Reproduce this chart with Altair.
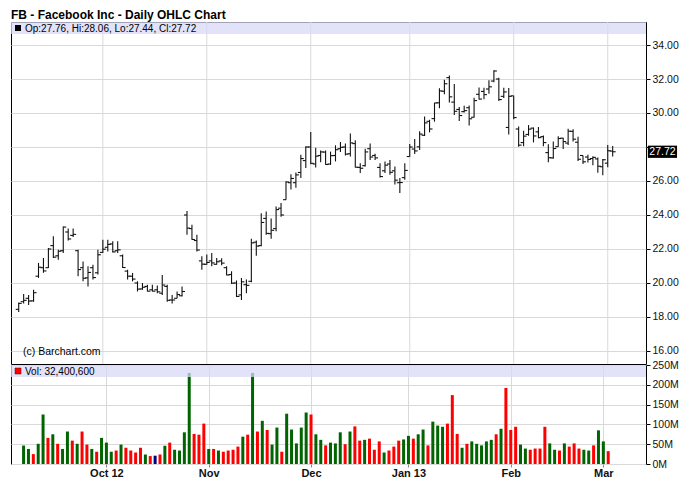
import altair as alt
import pandas as pd

# ---- data (trading-day index 0 = first bar, Sep 6 2012) ----
month_idx = [17, 38, 59, 79, 100, 119]
month_labels = ["Oct 12", "Nov", "Dec", "Jan 13", "Feb", "Mar"]

opens = [18.45, 18.90, 19.10, 18.95, 20.40, 20.90, 20.90, 22.20, 21.60, 21.90,
         23.00, 22.80, 21.90, 20.90, 20.30, 20.90, 20.60, 21.80, 22.10, 22.30,
         21.90, 21.60, 20.70, 20.40, 20.00, 19.65, 19.80, 19.60, 19.60, 19.40,
         19.80, 19.00, 19.10, 19.25, 24.00, 23.20, 22.50, 21.30, 21.10, 21.30,
         21.10, 21.30, 20.90, 20.50, 20.00, 19.30, 19.90, 20.10, 22.40, 22.20,
         23.80, 22.90, 23.20, 24.40, 24.90, 25.90, 25.90, 26.50, 27.20, 28.00,
         27.00, 27.50, 27.70, 27.00, 27.50, 27.90, 28.00, 27.60, 28.20, 26.80,
         26.90, 27.90, 27.50, 26.80, 26.60, 27.00, 26.60, 25.90, 26.20, 27.44,
         27.88, 28.01, 28.69, 29.51, 29.67, 30.60, 31.28, 32.08, 30.64, 30.21,
         30.08, 30.31, 29.75, 31.10, 31.27, 31.41, 31.88, 32.00, 30.98, 29.15,
         31.01, 29.06, 28.26, 28.74, 29.11, 28.89, 28.61, 27.67, 27.36, 28.02,
         28.52, 28.23, 28.92, 28.28, 27.50, 27.41, 27.32, 27.30, 26.84, 27.05,
         27.76]
highs = [18.85, 19.35, 19.30, 19.60, 21.18, 21.47, 22.06, 22.75, 21.96, 23.33,
         23.20, 23.20, 21.96, 21.27, 20.98, 21.08, 21.96, 22.55, 22.55, 22.45,
         22.45, 21.67, 20.78, 20.59, 20.10, 20.00, 19.90, 19.90, 19.85, 20.47,
         19.90, 19.30, 19.50, 19.80, 24.24, 23.43, 22.84, 21.57, 21.67, 21.76,
         21.47, 21.45, 20.98, 20.69, 20.15, 20.30, 20.20, 22.60, 22.50, 24.10,
         24.20, 23.80, 24.50, 24.70, 25.98, 26.40, 26.50, 27.55, 28.04, 28.88,
         27.95, 27.80, 27.80, 27.73, 28.10, 28.30, 28.20, 28.80, 28.40, 27.05,
         27.90, 28.20, 27.60, 27.05, 27.15, 27.24, 26.85, 26.17, 27.05, 28.18,
         28.47, 28.93, 29.79, 29.60, 30.60, 31.45, 31.96, 32.21, 31.71, 30.35,
         30.42, 30.44, 30.89, 31.50, 31.49, 31.93, 32.51, 32.07, 31.49, 31.47,
         31.02, 29.20, 28.96, 29.29, 29.15, 29.17, 28.68, 28.16, 28.32, 28.63,
         28.55, 29.08, 29.05, 28.60, 27.50, 27.54, 27.46, 27.38, 27.30, 28.12,
         28.06]
lows = [18.30, 18.80, 18.70, 18.90, 20.30, 20.60, 20.88, 21.47, 21.37, 21.76,
        22.50, 22.70, 20.40, 20.10, 19.80, 20.20, 20.50, 21.76, 21.86, 21.80,
        21.76, 20.88, 20.20, 20.10, 19.50, 19.60, 19.50, 19.50, 19.40, 19.30,
        18.90, 18.80, 19.10, 19.20, 22.84, 22.55, 21.86, 20.78, 21.08, 20.98,
        21.08, 21.05, 20.45, 19.95, 19.18, 19.00, 19.40, 20.05, 21.60, 22.16,
        22.84, 22.60, 23.04, 23.90, 24.90, 25.50, 25.60, 26.18, 26.76, 26.98,
        26.80, 27.10, 26.95, 26.95, 27.15, 27.70, 27.50, 27.44, 26.80, 26.47,
        26.85, 27.24, 27.24, 26.20, 26.47, 26.37, 25.80, 25.30, 26.08, 27.42,
        27.59, 27.83, 28.65, 28.86, 29.49, 30.28, 31.10, 30.62, 29.88, 29.53,
        30.03, 29.27, 29.74, 30.80, 30.81, 31.13, 31.81, 30.71, 30.88, 28.74,
        29.63, 28.01, 28.04, 28.66, 28.27, 28.51, 28.04, 27.10, 27.31, 28.01,
        27.88, 28.12, 28.33, 27.18, 27.00, 27.09, 26.92, 26.48, 26.34, 26.81,
        27.44]
closes = [18.80, 18.98, 18.94, 19.43, 20.93, 20.71, 22.00, 21.52, 21.87, 23.29,
          22.59, 22.86, 20.79, 20.28, 20.62, 20.32, 21.66, 21.99, 22.27, 21.83,
          21.95, 20.91, 20.40, 20.23, 19.64, 19.75, 19.52, 19.52, 19.48, 19.88,
          18.98, 19.00, 19.32, 19.50, 23.23, 22.56, 21.94, 21.11, 21.21, 21.18,
          21.25, 21.17, 20.47, 19.99, 19.21, 20.07, 19.86, 22.36, 22.17, 23.56,
          22.92, 23.10, 24.32, 24.00, 25.94, 26.15, 26.36, 27.32, 28.00, 27.04,
          27.46, 27.71, 26.97, 27.49, 27.84, 27.98, 27.58, 28.24, 26.81, 26.75,
          27.71, 27.41, 27.36, 26.26, 26.93, 26.51, 26.05, 25.91, 26.62, 28.00,
          27.77, 28.76, 29.42, 29.06, 30.59, 31.30, 31.72, 30.95, 30.10, 29.85,
          30.14, 29.66, 30.73, 30.82, 31.08, 31.54, 32.47, 30.79, 31.24, 30.98,
          29.73, 28.11, 28.64, 29.05, 28.65, 28.55, 28.26, 27.37, 27.91, 28.50,
          28.32, 28.93, 28.46, 27.28, 27.13, 27.27, 27.39, 26.87, 27.25, 27.78,
          27.72]
volumes_m = [46.6, 38, 25, 51, 125, 66, 75, 51, 38, 82,
             59, 51, 82, 49, 38, 31, 66, 54, 31, 34,
             49, 41, 34, 29, 41, 24, 20, 21, 24, 46,
             54, 36, 34, 80, 230, 76, 74, 102, 38, 38,
             34, 31, 34, 36, 44, 69, 74, 230, 82, 109,
             86, 49, 92, 31, 127, 87, 52, 92, 130, 125,
             75, 61, 47, 54, 52, 80, 50, 82, 95, 59,
             61, 64, 36, 57, 29, 34, 44, 59, 62, 71,
             64, 75, 87, 47, 107, 97, 94, 102, 174, 76,
             41, 51, 57, 51, 47, 57, 61, 75, 89, 192,
             86, 94, 49, 39, 36, 39, 39, 94, 52, 36,
             34, 52, 44, 52, 39, 36, 34, 47, 85, 57,
             32.4006]
# bar colour: g = up, r = down, n = unchanged
vol_color = ["g", "g", "r", "g", "g", "r", "g", "r", "g", "g",
             "r", "g", "r", "r", "g", "r", "g", "g", "g", "r",
             "g", "r", "r", "r", "r", "g", "r", "n", "r", "g",
             "r", "g", "g", "g", "g", "r", "r", "r", "g", "r",
             "g", "r", "r", "r", "r", "g", "r", "g", "r", "g",
             "r", "g", "g", "r", "g", "g", "g", "g", "g", "r",
             "g", "g", "r", "g", "g", "g", "r", "g", "r", "r",
             "g", "r", "r", "r", "g", "r", "r", "r", "g", "g",
             "r", "g", "g", "r", "g", "g", "g", "r", "r", "r",
             "g", "r", "g", "g", "g", "g", "g", "r", "g", "r",
             "r", "r", "g", "g", "r", "r", "r", "r", "g", "g",
             "r", "g", "r", "r", "r", "g", "g", "r", "g", "g",
             "r"]
price_ticks = [16, 18, 20, 22, 24, 26, 28, 30, 32, 34]
vol_ticks_m = [0, 50, 100, 150, 200, 250]

n = len(closes)
df = pd.DataFrame({
    "i": list(range(n)), "open": opens, "high": highs, "low": lows,
    "close": closes, "vol": [v * 1e6 for v in volumes_m], "c": vol_color,
})
months_df = pd.DataFrame({"m": month_idx})

W = 635
H_PRICE = 342
H_VOL = 99
FONT = "Liberation Sans"
GRID = "#d9d9d9"
BAND = "#d8d8f7"
BAR_INK = "#111111"

x_scale = alt.Scale(domain=[-1.556, 126.73], nice=False, zero=False)
y_price = alt.Scale(domain=[15.235, 35.353], nice=False, zero=False)
y_vol = alt.Scale(domain=[0, 250e6], nice=False)

label_expr = " : ".join(
    f"datum.value == {v} ? '{l}'" for v, l in zip(month_idx, month_labels)
) + " : ''"

last_close = closes[-1]


def price_axis():
    return alt.Axis(orient="right", values=price_ticks,
                    labelExpr=f"abs(datum.value - {last_close}) < 0.6 ? '' : format(datum.value, '.2f')",
                    grid=True, gridColor=GRID, title=None, tickSize=4,
                    tickColor="black", domain=False, labelPadding=2,
                    labelOverlap=False, labelFontSize=10.5, labelFont=FONT,
                    labelColor="#111")


def x_none():
    return alt.Axis(values=month_idx, grid=False, labels=False, ticks=False,
                    domain=False, title=None)


base = alt.Chart(df)
vgrid = alt.Chart(months_df).mark_rule(color=GRID, strokeWidth=1).encode(
    x=alt.X("m:Q", scale=x_scale, axis=x_none()))
hl = base.mark_rule(color=BAR_INK, strokeWidth=1.1).encode(
    x=alt.X("i:Q", scale=x_scale, axis=x_none()),
    y=alt.Y("low:Q", scale=y_price, axis=price_axis()),
    y2="high:Q",
)
otick = base.transform_calculate(xo="datum.i - 0.6").mark_rule(
    color=BAR_INK, strokeWidth=1.1).encode(
    x=alt.X("xo:Q", scale=x_scale, axis=x_none()), x2="i:Q",
    y=alt.Y("open:Q", scale=y_price, axis=price_axis()))
ctick = base.transform_calculate(xc="datum.i + 0.6").mark_rule(
    color=BAR_INK, strokeWidth=1.1).encode(
    x=alt.X("i:Q", scale=x_scale, axis=x_none()), x2="xc:Q",
    y=alt.Y("close:Q", scale=y_price, axis=price_axis()))

one = pd.DataFrame({"k": [0]})
band_p = alt.Chart(one).mark_rect(fill=BAND, opacity=0.75).encode(
    x=alt.value(0), x2=alt.value(W), y=alt.value(0), y2=alt.value(12))
sq_p = alt.Chart(one).mark_rect(fill="black").encode(
    x=alt.value(4), x2=alt.value(10), y=alt.value(3), y2=alt.value(9))
legend_text = f"Op:{opens[-1]:.2f}, Hi:{highs[-1]:.2f}, Lo:{lows[-1]:.2f}, Cl:{closes[-1]:.2f}"
txt_p = alt.Chart(one).mark_text(align="left", baseline="middle", fontSize=10,
                                 font=FONT, color="black").encode(
    x=alt.value(14), y=alt.value(6.5), text=alt.value(legend_text))
copy_txt = alt.Chart(one).mark_text(align="left", baseline="middle", fontSize=10.5,
                                    font=FONT, color="black").encode(
    x=alt.value(12), y=alt.value(330), text=alt.value("(c) Barchart.com"))

last = pd.DataFrame({"xa": [n + 6.1], "xb": [n + 12.0], "xm": [n + 9.05],
                     "ya": [last_close - 0.36], "yb": [last_close + 0.36],
                     "y": [last_close], "t": [f"{last_close:.2f}"]})
last_box = alt.Chart(last).mark_rect(fill="black").encode(
    x=alt.X("xa:Q", scale=x_scale, axis=x_none()), x2="xb:Q",
    y=alt.Y("ya:Q", scale=y_price, axis=price_axis()), y2="yb:Q")
last_txt = alt.Chart(last).mark_text(align="center", baseline="middle", fontSize=10.5,
                                     font=FONT, color="white").encode(
    x=alt.X("xm:Q", scale=x_scale, axis=x_none()),
    y=alt.Y("y:Q", scale=y_price, axis=price_axis()), text="t:N")

price = alt.layer(vgrid, hl, otick, ctick, band_p, sq_p, txt_p, copy_txt,
                  last_box, last_txt).properties(
    width=W, height=H_PRICE,
    title=alt.TitleParams("FB - Facebook Inc - Daily OHLC Chart", anchor="start",
                          fontSize=12, fontWeight="bold", font=FONT, color="black",
                          offset=0, frame="group"),
)

x_vol_axis = alt.Axis(values=month_idx, labelExpr=label_expr, grid=True, gridColor=GRID,
                      title=None, domain=False, tickSize=3, tickColor="#888",
                      labelFontWeight="bold", labelFontSize=11, labelFont=FONT,
                      labelColor="#111", labelPadding=0)
y_vol_axis = alt.Axis(orient="right", values=[v * 1e6 for v in vol_ticks_m],
                      labelExpr="format(datum.value / 1e6, 'd') + 'M'",
                      grid=True, gridColor=GRID, title=None, tickSize=4,
                      tickColor="black", domain=False, labelPadding=2,
                      labelOverlap=False, labelFontSize=10.5, labelFont=FONT,
                      labelColor="#111")
bars = alt.Chart(df).mark_bar(size=3).encode(
    x=alt.X("i:Q", scale=x_scale, axis=x_vol_axis),
    y=alt.Y("vol:Q", scale=y_vol, axis=y_vol_axis),
    color=alt.Color("c:N", scale=alt.Scale(domain=["g", "r", "n"],
                                           range=["#006400", "#ff0000", "#000080"]),
                    legend=None),
)
band_v = alt.Chart(one).mark_rect(fill=BAND, opacity=0.75).encode(
    x=alt.value(0), x2=alt.value(W), y=alt.value(0), y2=alt.value(12))
sq_v = alt.Chart(one).mark_rect(fill="#ff0000", stroke="#600000", strokeWidth=0.5).encode(
    x=alt.value(4), x2=alt.value(10), y=alt.value(3), y2=alt.value(9))
vol_text = f"Vol: {int(round(volumes_m[-1] * 1e6)):,}"
txt_v = alt.Chart(one).mark_text(align="left", baseline="middle", fontSize=10,
                                 font=FONT, color="black").encode(
    x=alt.value(14), y=alt.value(6.5), text=alt.value(vol_text))

vol = alt.layer(bars, band_v, sq_v, txt_v).properties(width=W, height=H_VOL)

chart = alt.vconcat(price, vol, spacing=1, bounds="flush").properties(
    padding={"left": 2, "top": 0, "right": 0, "bottom": 0}
).configure_view(stroke="black", strokeWidth=1)

chart.save("out.html", embed_options={"renderer": "svg", "actions": False})
